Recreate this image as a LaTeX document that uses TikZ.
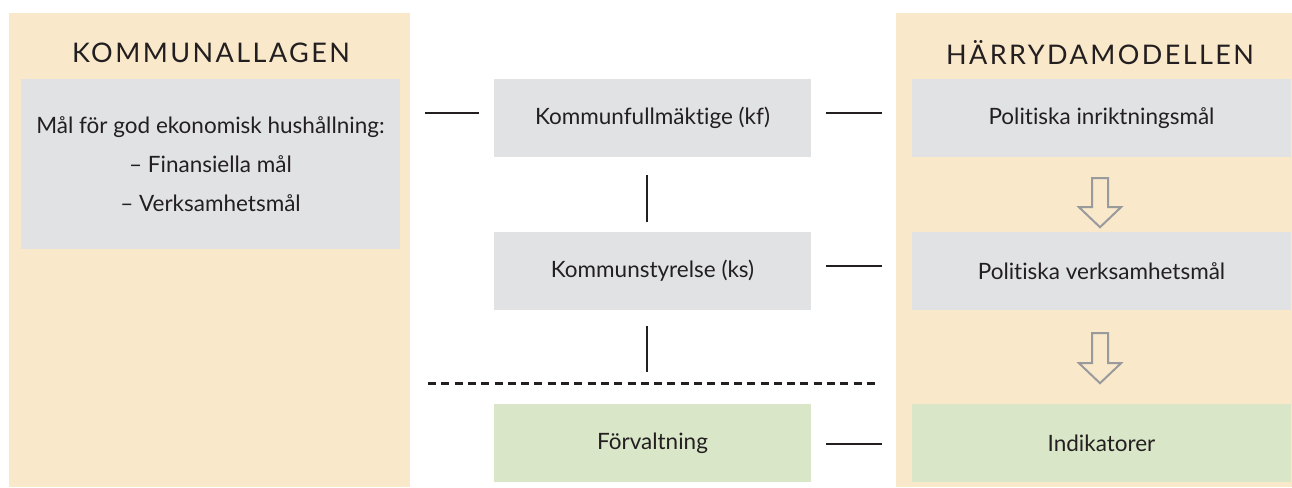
\documentclass[tikz,border=0pt]{standalone}
\usepackage{fontspec}
\setmainfont{Lato}[Ligatures=NoCommon]
\usetikzlibrary{calc}
\definecolor{beige}{HTML}{F9E8CA}
\definecolor{boxgrey}{HTML}{E1E2E4}
\definecolor{boxgreen}{HTML}{D9E7C8}
\definecolor{ink}{HTML}{231F20}
\definecolor{arrowgrey}{HTML}{999A9C}
\tikzset{
  panel/.style={fill=beige, draw=none},
  header/.style={font=\fontsize{27}{30}\selectfont\addfontfeature{LetterSpace=9}, text=ink, inner sep=0pt},
  gbox/.style={fill=boxgrey, draw=none, minimum width=317pt, minimum height=78pt, inner sep=0pt, text=ink, font=\fontsize{22.5}{26}\selectfont},
  wbox/.style={gbox, minimum width=379pt},
  green/.style={fill=boxgreen},
  conn/.style={draw=ink, line width=2.4pt},
  barrow/.style={draw=arrowgrey, line width=2pt, fill=beige, line join=miter}
}
\begin{document}
\begin{tikzpicture}[x=1pt,y=-1pt]
\useasboundingbox (0,0) rectangle (1292,487);
% panels
\fill[panel] (9,13) rectangle (410,487);
\fill[panel] (896,13) rectangle (1292,487);
% headers
\node[header] (hl) at (211,53) {KOMMUNALLAGEN};
\node[header] (hr) at (1100,53) {HÄRRYDAMODELLEN};
% left box
\node[wbox, minimum height=170pt, align=center, font=\fontsize{22.5}{39}\selectfont] (lg) at (210.5,164)
  {Mål för god ekonomisk hushållning:\\– Finansiella mål\\– Verksamhetsmål};
% middle boxes
\node[gbox] (kf) at (652.5,118) {Kommunfullmäktige (kf)};
\node[gbox] (ks) at (652.5,271) {Kommunstyrelse (ks)};
\node[gbox, green] (fv) at (652.5,443) {Förvaltning};
% right boxes
\node[wbox] (r1) at (1101.5,118) {Politiska inriktningsmål};
\node[wbox] (r2) at (1101.5,271) {Politiska verksamhetsmål};
\node[wbox, green] (r3) at (1101.5,443) {Indikatorer};
% dashed separator
\coordinate (dl) at (428,383.5);
\coordinate (dr) at (878,383.5);
\draw[draw=ink, line width=2.2pt, dash pattern=on 8pt off 5.3pt] (dl) -- (dr);
% horizontal connectors
\coordinate (kfL) at ([yshift=5pt]kf.west);
\coordinate (kfR) at ([yshift=5pt]kf.east);
\coordinate (ksR) at ([yshift=5pt]ks.east);
\coordinate (fvR) at ([yshift=-1pt]fv.east);
\draw[conn, shorten <=25pt, shorten >=15pt] (lg.east |- kfL) -- (kfL);
\draw[conn, shorten <=15pt, shorten >=30pt] (kfR) -- (r1.west |- kfR);
\draw[conn, shorten <=15pt, shorten >=30pt] (ksR) -- (r2.west |- ksR);
\draw[conn, shorten <=15pt, shorten >=30pt] (fvR) -- (r3.west |- fvR);
% vertical connectors
\coordinate (kfS) at ([xshift=-5.5pt]kf.south);
\coordinate (ksS) at ([xshift=-5.5pt]ks.south);
\draw[conn, shorten <=18pt, shorten >=10pt] (kfS) -- (kfS |- ks.north);
\draw[conn, shorten <=16pt, shorten >=11.5pt] (ksS) -- (ksS |- dl);
% block arrows
\draw[barrow] ([xshift=-1.5pt]r1.south) ++(-8,21) -- ++(0,29) -- ++(-13,0) -- ++(21,20) -- ++(21,-20) -- ++(-13,0) -- ++(0,-29) -- cycle;
\draw[barrow] ([xshift=-1.5pt]r2.south) ++(-8,23) -- ++(0,30) -- ++(-13,0) -- ++(21,20) -- ++(21,-20) -- ++(-13,0) -- ++(0,-30) -- cycle;
\end{tikzpicture}
\end{document}
